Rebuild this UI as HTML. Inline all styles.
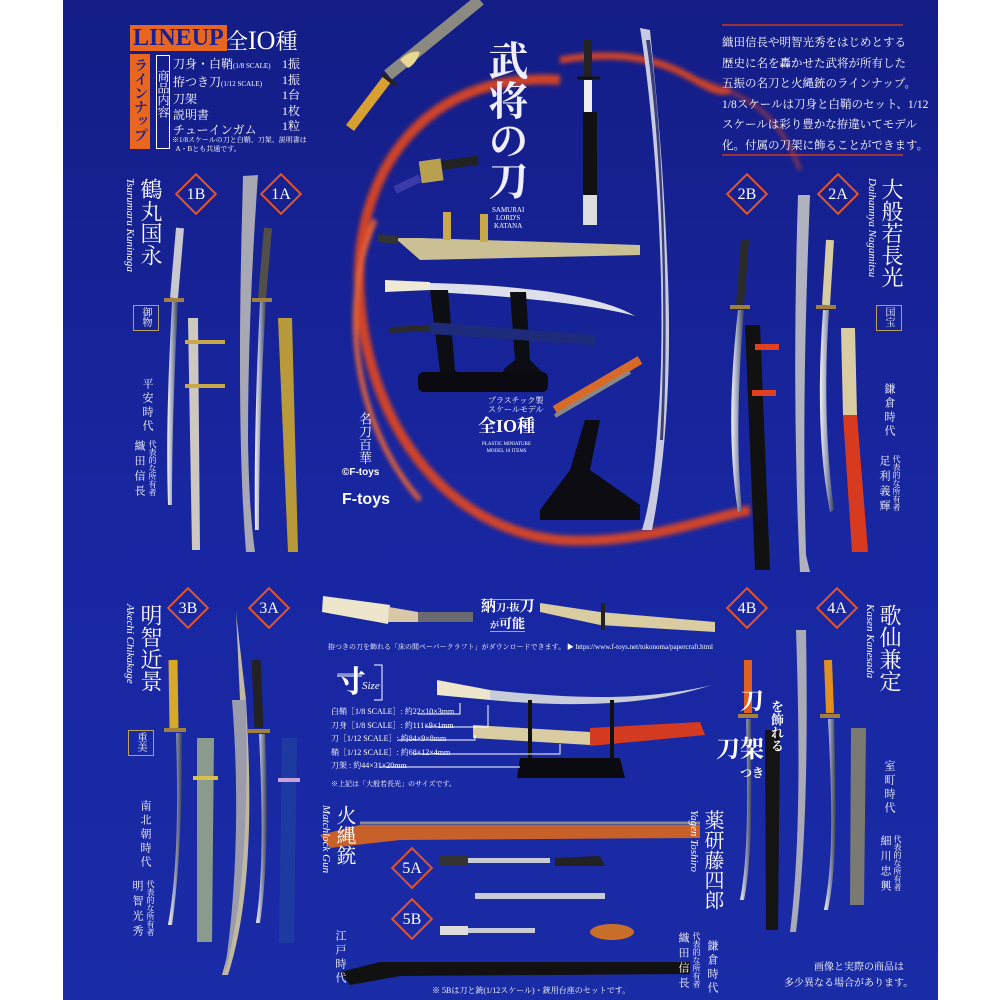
<!DOCTYPE html>
<html><head><meta charset="utf-8">
<style>
html,body{margin:0;padding:0;background:#fff}
#w{position:relative;width:1000px;height:1000px;overflow:hidden;background:#fff;font-family:"Liberation Serif","Noto Serif CJK SC","Noto Sans CJK JP",serif;color:#fff}
svg{position:absolute;left:0;top:0}
.t{position:absolute;white-space:nowrap;line-height:1}
.v{position:absolute;writing-mode:vertical-rl;white-space:nowrap;line-height:1}
.dia{position:absolute;width:30px;height:30px;transform:rotate(45deg);border:2px solid #e2542a;box-sizing:border-box}
.dl{position:absolute;width:44px;text-align:center;font-size:16px;line-height:1}
</style></head><body><div id="w">
<svg width="1000" height="1000" viewBox="0 0 1000 1000">
<defs>
<linearGradient id="bg" x1="0" y1="0" x2="0" y2="1"><stop offset="0" stop-color="#141d86"/><stop offset=".5" stop-color="#1826a0"/><stop offset="1" stop-color="#1a2ba6"/></linearGradient>
<linearGradient id="bl" x1="0" y1="0" x2="1" y2="0"><stop offset="0" stop-color="#f4f4fa"/><stop offset=".5" stop-color="#9aa0b8"/><stop offset="1" stop-color="#3a3f5a"/></linearGradient>
<filter id="blur"><feGaussianBlur stdDeviation="2"/></filter>
</defs>
<rect x="63" y="0" width="875" height="1000" fill="url(#bg)"/>
<g filter="url(#blur)" opacity=".9">
<path d="M560 80 C420 70 350 180 360 300 C370 430 450 530 560 540 C640 545 700 520 750 510" fill="none" stroke="#e4461c" stroke-width="10"/>
<path d="M560 60 C680 40 700 100 730 90" fill="none" stroke="#e4461c" stroke-width="7"/>
<path d="M375 220 C340 300 350 420 420 500" fill="none" stroke="#ff6a2a" stroke-width="5"/>
<path d="M700 80 C760 100 780 120 800 170" fill="none" stroke="#e4461c" stroke-width="4" opacity=".6"/>
</g>
<line x1="722" y1="25" x2="903" y2="25" stroke="#c83a1e" stroke-width="1.5"/>
<line x1="722" y1="155" x2="903" y2="155" stroke="#c83a1e" stroke-width="1.5"/>
<path d="M640 28 C655 120 668 300 658 420 C654 480 648 510 642 530 L652 530 C664 470 672 380 668 280 C664 170 656 90 650 30 Z" fill="#c8cbe0"/>
<path d="M646 40 C660 130 668 300 660 440 L663 440 C670 300 662 130 650 40Z" fill="#3a3f7a"/>
<line x1="350" y1="128" x2="388" y2="78" stroke="#d8a030" stroke-width="10"/>
<line x1="388" y1="75" x2="480" y2="0" stroke="#8a8a80" stroke-width="12"/>
<line x1="382" y1="74" x2="396" y2="85" stroke="#222" stroke-width="4"/>
<path d="M400 60 q10 -10 20 -8 q-4 12 -12 16z" fill="#e8d890"/>
<line x1="588" y1="40" x2="588" y2="78" stroke="#222" stroke-width="8"/>
<line x1="577" y1="78" x2="600" y2="78" stroke="#111" stroke-width="3"/>
<line x1="588" y1="80" x2="588" y2="112" stroke="#eee" stroke-width="8"/>
<line x1="590" y1="112" x2="590" y2="195" stroke="#111" stroke-width="14"/>
<line x1="590" y1="195" x2="590" y2="225" stroke="#ddd" stroke-width="14"/>
<line x1="425" y1="168" x2="478" y2="160" stroke="#222" stroke-width="9"/>
<rect x="420" y="160" width="22" height="22" fill="#b8a050" transform="rotate(-8 430 170)"/>
<line x1="395" y1="190" x2="420" y2="178" stroke="#3a3aa8" stroke-width="8"/>
<path d="M395 238 L420 238 L640 245 L640 255 L420 260 Z" fill="#cbbf94"/>
<line x1="378" y1="238" x2="398" y2="240" stroke="#333" stroke-width="8"/>
<rect x="443" y="212" width="8" height="28" fill="#c8a848"/><rect x="480" y="214" width="8" height="28" fill="#c8a848"/>
<path d="M385 280 L430 282 L430 290 L385 292Z" fill="#efe9d6"/>
<path d="M430 283 C520 285 600 295 635 316 C600 306 520 296 430 292Z" fill="#dde0ea"/>
<path d="M430 290 L448 290 L455 370 L470 385 L420 390 L420 380 L440 372Z" fill="#0d0d14"/>
<path d="M510 292 L526 292 L530 360 L545 375 L500 378 L505 368 L515 360Z" fill="#0d0d14"/>
<rect x="418" y="372" width="130" height="20" rx="6" fill="#0a0a10"/>
<line x1="390" y1="330" x2="430" y2="328" stroke="#2a2a2a" stroke-width="6"/>
<path d="M430 322 L595 335 L595 345 L430 334Z" fill="#1e2a7a"/>
<line x1="555" y1="410" x2="640" y2="360" stroke="#d86a28" stroke-width="9"/>
<line x1="555" y1="416" x2="630" y2="372" stroke="#888" stroke-width="4"/>
<path d="M540 510 L570 470 L585 420 L600 420 L590 470 L640 505 L640 520 L540 520Z" fill="#0c0c12"/>
<line x1="180" y1="228" x2="174" y2="298" stroke="#c8c8d0" stroke-width="8"/>
<line x1="164" y1="300" x2="184" y2="300" stroke="#a08040" stroke-width="4"/>
<path d="M172 302 C168 380 166 440 168 505 L172 505 C172 440 174 380 178 302Z" fill="url(#bl)"/>
<path d="M188 318 L198 318 L200 550 L192 550Z" fill="#cdc9c0"/>
<rect x="185" y="340" width="40" height="4" fill="#c8a848"/><rect x="185" y="384" width="40" height="4" fill="#c8a848"/>
<path d="M243 176 L258 175 C252 260 248 350 248 440 C249 500 252 530 255 552 L246 552 C242 500 240 440 240 360 C240 280 242 220 243 176Z" fill="#a8a8b4"/>
<line x1="268" y1="228" x2="262" y2="298" stroke="#514f48" stroke-width="8"/>
<line x1="252" y1="300" x2="272" y2="300" stroke="#a08040" stroke-width="4"/>
<path d="M260 302 C256 380 254 460 255 530 L259 530 C259 460 261 380 266 302Z" fill="url(#bl)"/>
<path d="M278 318 L292 318 L298 552 L288 552Z" fill="#b89a3a"/>
<line x1="745" y1="240" x2="740" y2="305" stroke="#2a2a2a" stroke-width="8"/>
<line x1="730" y1="307" x2="750" y2="307" stroke="#a08040" stroke-width="4"/>
<path d="M738 310 C730 380 728 450 738 512 L742 510 C736 450 738 380 744 310Z" fill="url(#bl)"/>
<path d="M745 325 L760 325 L770 570 L755 570Z" fill="#111"/>
<rect x="755" y="344" width="24" height="6" fill="#e04020"/><rect x="752" y="390" width="24" height="6" fill="#e04020"/>
<path d="M798 195 L810 195 C806 300 802 420 806 555 L810 572 L800 572 C794 450 794 320 798 195Z" fill="#b0b2c0"/>
<line x1="830" y1="240" x2="826" y2="305" stroke="#d8cca0" stroke-width="8"/>
<line x1="816" y1="307" x2="836" y2="307" stroke="#a08040" stroke-width="4"/>
<path d="M823 310 C818 380 818 450 830 512 L834 510 C826 450 824 380 829 310Z" fill="url(#bl)"/>
<path d="M841 328 L855 328 L857 415 L843 415Z" fill="#d8cca0"/>
<path d="M843 415 L857 415 L868 552 L852 552Z" fill="#d83a20"/>
<line x1="173" y1="660" x2="174" y2="728" stroke="#d8a828" stroke-width="9"/>
<line x1="164" y1="730" x2="186" y2="730" stroke="#a08040" stroke-width="4"/>
<path d="M176 733 C178 800 178 870 168 925 L172 925 C180 870 182 800 182 733Z" fill="url(#bl)"/>
<path d="M197 738 L214 738 L212 942 L197 942Z" fill="#8a9a8c"/>
<line x1="193" y1="778" x2="218" y2="778" stroke="#d8c050" stroke-width="4"/>
<path d="M226 612 L236 612 L240 700 L242 700 C246 800 244 900 222 975 L228 975 C252 900 252 800 246 700 L236 612Z" fill="#c0b8a0"/>
<path d="M232 700 L246 700 C248 800 246 900 224 975 C236 900 240 800 232 700Z" fill="#9a9cac"/>
<line x1="256" y1="660" x2="259" y2="728" stroke="#222" stroke-width="9"/>
<line x1="248" y1="731" x2="270" y2="731" stroke="#a08040" stroke-width="4"/>
<path d="M259 734 C262 800 264 870 256 923 L260 923 C268 870 268 800 265 734Z" fill="url(#bl)"/>
<path d="M282 738 L297 738 L294 943 L279 943Z" fill="#1d3aa0"/>
<line x1="278" y1="780" x2="300" y2="780" stroke="#c8a0e0" stroke-width="4"/>
<line x1="748" y1="660" x2="748" y2="713" stroke="#e06020" stroke-width="8"/>
<line x1="738" y1="716" x2="758" y2="716" stroke="#a08040" stroke-width="4"/>
<path d="M746 719 C748 800 748 860 740 900 L744 900 C752 860 752 800 751 719Z" fill="url(#bl)"/>
<path d="M765 730 L780 730 L778 930 L766 930Z" fill="#141414"/>
<path d="M796 630 L806 630 C808 750 806 850 796 932 L790 932 C800 850 800 750 796 630Z" fill="#a8aab8"/>
<line x1="828" y1="660" x2="830" y2="713" stroke="#e09020" stroke-width="8"/>
<line x1="820" y1="716" x2="840" y2="716" stroke="#a08040" stroke-width="4"/>
<path d="M828 719 C832 800 834 860 824 910 L828 910 C838 860 836 800 834 719Z" fill="url(#bl)"/>
<path d="M851 728 L866 728 L864 905 L850 905Z" fill="#7a7a72"/>
<path d="M323 596 L390 605 L388 624 L322 612Z" fill="#eee6cc"/>
<path d="M389 607 L418 612 L418 622 L388 622Z" fill="#d8c8a8"/>
<rect x="418" y="612" width="55" height="10" fill="#6a6a70"/>
<path d="M540 603 L600 612 L715 622 L715 632 L600 625 L540 612Z" fill="#d8cca0"/>
<line x1="603" y1="603" x2="603" y2="630" stroke="#222" stroke-width="4"/>
<path d="M437 680 L490 690 L490 700 L437 695Z" fill="#eee6cc"/>
<path d="M490 690 C580 700 650 700 712 685 C650 705 580 708 490 700Z" fill="#c8ccd8"/>
<path d="M473 725 L590 732 L590 745 L473 738Z" fill="#d8cca0"/>
<path d="M590 728 L700 722 L705 735 L590 746Z" fill="#d43a20"/>
<rect x="528" y="700" width="4" height="60" fill="#111"/><rect x="610" y="700" width="4" height="60" fill="#111"/>
<path d="M520 758 L620 758 L625 778 L517 778Z" fill="#0a0a10"/>
<g stroke="#fff" stroke-width="1" fill="none">
<path d="M418 714 L460 714 L460 703"/><path d="M425 727 L488 727 L488 705"/><path d="M398 740 L475 740 L475 735"/><path d="M413 754 L560 754 L560 744"/><path d="M380 767 L520 767"/>
<path d="M337 676 L362 676"/><path d="M374 665 L382 665 L382 700 L374 700"/>
</g>
<path d="M320 835 L360 825 L700 825 L700 838 L400 840 L330 848Z" fill="#c8602a"/>
<line x1="360" y1="823" x2="700" y2="823" stroke="#888" stroke-width="3"/>
<rect x="440" y="858" width="110" height="5" fill="#c8cad6"/><rect x="440" y="856" width="28" height="9" fill="#333"/>
<path d="M555 858 L600 856 L605 866 L555 866Z" fill="#222"/>
<rect x="475" y="893" width="130" height="6" fill="#c8cad6"/>
<rect x="440" y="928" width="95" height="5" fill="#c8cad6"/><rect x="440" y="926" width="28" height="9" fill="#ddd"/>
<ellipse cx="612" cy="932" rx="22" ry="8" fill="#c8702a"/>
<path d="M340 972 L380 962 L690 962 L690 974 L400 976 L350 985Z" fill="#111"/>
</svg>

<div class="t" style="left:130px;top:25px;background:#e8661f;color:#1a2090;font-size:24px;padding:1px 3px;font-weight:bold">LINEUP</div>
<div style="position:absolute;left:130px;top:54px;width:20px;height:95px;background:#e8661f"></div>
<div class="v" style="left:132px;top:58px;font-size:14px;color:#1a2090;font-weight:bold">ラインナップ</div>
<div class="t" style="left:226px;top:28px;font-size:22px">全<span style="font-size:26px">IO</span>種</div>
<div style="position:absolute;left:156px;top:55px;width:12px;height:92px;border:1px solid #fff"></div>
<div class="v" style="left:157px;top:70px;font-size:12px">商品内容</div>
<div class="t" style="left:173px;top:57px;font-size:12px;line-height:15.5px">刀身・白鞘<small style="font-size:7px">(1/8 SCALE)</small><br>拵つき刀<small style="font-size:7px">(1/12 SCALE)</small><br>刀架<br>説明書<br>チューインガム</div>
<div class="t" style="left:282px;top:57px;font-size:12px;line-height:15.5px">1振<br>1振<br>1台<br>1枚<br>1粒</div>
<div class="t" style="left:172px;top:136px;font-size:7px;line-height:9px">※1/8スケールの刀と白鞘、刀架、説明書は<br>&nbsp;&nbsp;A・Bとも共通です。</div>
<div class="v" style="left:485px;top:40px;font-size:40px;font-weight:bold;color:#eef">武将の刀</div>
<div class="t" style="left:492px;top:206px;font-size:7px;text-align:center;line-height:8px">SAMURAI<br>LORD'S<br>KATANA</div>
<div class="t" style="left:488px;top:396px;font-size:8px;line-height:9px;text-align:center">プラスチック製<br>スケールモデル</div>
<div class="t" style="left:478px;top:417px;font-size:18px;font-weight:bold">全IO種</div>
<div class="t" style="left:482px;top:441px;font-size:5px;line-height:7px;text-align:center">PLASTIC MINIATURE<br>MODEL 10 ITEMS</div>
<div class="v" style="left:358px;top:412px;font-size:13px">名刀百華</div>
<div class="t" style="left:342px;top:468px;font-size:10px;font-weight:bold;font-family:'Liberation Sans',sans-serif">©F-toys</div>
<div class="t" style="left:342px;top:492px;font-size:16px;font-weight:bold;font-family:'Liberation Sans',sans-serif">F-toys</div>
<div class="t" style="left:722px;top:33px;font-size:11.5px;line-height:20.5px">織田信長や明智光秀をはじめとする<br>歴史に名を轟かせた武将が所有した<br>五振の名刀と火縄銃のラインナップ。<br>1/8スケールは刀身と白鞘のセット、1/12<br>スケールは彩り豊かな拵違いてモデル<br>化。付属の刀架に飾ることができます。</div>
<div class="dia" style="left:181px;top:179px"></div><div class="dl" style="left:174px;top:187px">1B</div>
<div class="dia" style="left:266px;top:179px"></div><div class="dl" style="left:259px;top:187px">1A</div>
<div class="dia" style="left:732px;top:179px"></div><div class="dl" style="left:725px;top:187px">2B</div>
<div class="dia" style="left:823px;top:179px"></div><div class="dl" style="left:816px;top:187px">2A</div>
<div class="dia" style="left:173px;top:593px"></div><div class="dl" style="left:166px;top:601px">3B</div>
<div class="dia" style="left:254px;top:593px"></div><div class="dl" style="left:247px;top:601px">3A</div>
<div class="dia" style="left:732px;top:593px"></div><div class="dl" style="left:725px;top:601px">4B</div>
<div class="dia" style="left:822px;top:593px"></div><div class="dl" style="left:815px;top:601px">4A</div>
<div class="dia" style="left:397px;top:853px"></div><div class="dl" style="left:390px;top:861px">5A</div>
<div class="dia" style="left:397px;top:904px"></div><div class="dl" style="left:390px;top:912px">5B</div>
<div class="v" style="left:139px;top:178px;font-size:22px">鶴丸国永</div>
<div class="v" style="left:124px;top:178px;font-size:11px;font-style:italic">Tsurumaru Kuninaga</div>
<div style="position:absolute;left:133px;top:305px;width:24px;height:24px;border:1px solid #b8a060"></div>
<div class="v" style="left:140px;top:307px;font-size:10px">御物</div>
<div class="v" style="left:141px;top:378px;font-size:11px;letter-spacing:3px">平安時代</div>
<div class="v" style="left:148px;top:440px;font-size:8px">代表的な所有者</div>
<div class="v" style="left:133px;top:440px;font-size:11px;letter-spacing:4px">織田信長</div>
<div class="v" style="left:880px;top:178px;font-size:22px">大般若長光</div>
<div class="v" style="left:866px;top:178px;font-size:11px;font-style:italic">Daihannya Nagamitsu</div>
<div style="position:absolute;left:876px;top:305px;width:24px;height:24px;border:1px solid #b8a060"></div>
<div class="v" style="left:883px;top:307px;font-size:10px">国宝</div>
<div class="v" style="left:883px;top:383px;font-size:11px;letter-spacing:3px">鎌倉時代</div>
<div class="v" style="left:892px;top:455px;font-size:8px">代表的な所有者</div>
<div class="v" style="left:878px;top:455px;font-size:11px;letter-spacing:4px">足利義輝</div>
<div class="v" style="left:139px;top:604px;font-size:22px">明智近景</div>
<div class="v" style="left:124px;top:604px;font-size:11px;font-style:italic">Akechi Chikakage</div>
<div style="position:absolute;left:128px;top:730px;width:24px;height:24px;border:1px solid #b8a060"></div>
<div class="v" style="left:135px;top:732px;font-size:10px">重美</div>
<div class="v" style="left:139px;top:800px;font-size:11px;letter-spacing:3px">南北朝時代</div>
<div class="v" style="left:146px;top:880px;font-size:8px">代表的な所有者</div>
<div class="v" style="left:131px;top:880px;font-size:11px;letter-spacing:4px">明智光秀</div>
<div class="v" style="left:878px;top:604px;font-size:22px">歌仙兼定</div>
<div class="v" style="left:864px;top:604px;font-size:11px;font-style:italic">Kasen Kanesada</div>
<div class="v" style="left:883px;top:760px;font-size:11px;letter-spacing:3px">室町時代</div>
<div class="v" style="left:893px;top:835px;font-size:8px">代表的な所有者</div>
<div class="v" style="left:879px;top:835px;font-size:11px;letter-spacing:4px">細川忠興</div>
<div class="v" style="left:334px;top:805px;font-size:20px">火縄銃</div>
<div class="v" style="left:320px;top:805px;font-size:11px;font-style:italic">Matchlock Gun</div>
<div class="v" style="left:334px;top:930px;font-size:11px;letter-spacing:3px">江戸時代</div>
<div class="v" style="left:702px;top:810px;font-size:20px">薬研藤四郎</div>
<div class="v" style="left:688px;top:810px;font-size:11px;font-style:italic">Yagen Toshiro</div>
<div class="v" style="left:706px;top:940px;font-size:11px;letter-spacing:3px">鎌倉時代</div>
<div class="v" style="left:692px;top:932px;font-size:8px">代表的な所有者</div>
<div class="v" style="left:677px;top:932px;font-size:11px;letter-spacing:4px">織田信長</div>
<div class="t" style="left:481px;top:599px;font-size:15px;font-weight:bold;border-top:1px solid #aaa">納<small style="font-size:10px">刀·抜</small>刀</div>
<div class="t" style="left:490px;top:617px;font-size:13px;font-weight:bold;border-bottom:1px solid #aaa;padding-bottom:1px"><small style="font-size:9px">が</small>可能</div>
<div class="t" style="left:328px;top:644px;font-size:7px">拵つきの刀を飾れる「床の間ペーパークラフト」がダウンロードできます。 ▶ https://www.f-toys.net/tokonoma/papercraft.html</div>
<div class="t" style="left:336px;top:668px;font-size:30px;font-weight:bold">寸</div>
<div class="t" style="left:362px;top:681px;font-size:11px;font-style:italic">Size</div>
<div class="t" style="left:331px;top:705px;font-size:8px;line-height:13.5px">白鞘［1/8 SCALE］: 約22×10×3mm<br>刀身［1/8 SCALE］: 約111×9×1mm<br>刀［1/12 SCALE］: 約84×9×8mm<br>鞘［1/12 SCALE］: 約68×12×4mm<br>刀架 : 約44×31×20mm</div>
<div class="t" style="left:331px;top:781px;font-size:7px">※上記は「大般若長光」のサイズです。</div>
<div class="t" style="left:740px;top:690px;font-size:24px;font-weight:bold">刀</div>
<div class="v" style="left:770px;top:700px;font-size:13px;font-weight:bold">を飾れる</div>
<div class="t" style="left:716px;top:738px;font-size:24px;font-weight:bold">刀架</div>
<div class="t" style="left:740px;top:767px;font-size:12px;font-weight:bold">つき</div>
<div class="t" style="left:432px;top:987px;font-size:8px">※ 5Bは刀と銃(1/12スケール)・銃用台座のセットです。</div>
<div class="t" style="left:814px;top:963px;font-size:10px">画像と実際の商品は</div>
<div class="t" style="left:784px;top:979px;font-size:10px">多少異なる場合があります。</div>
</div></body></html>
